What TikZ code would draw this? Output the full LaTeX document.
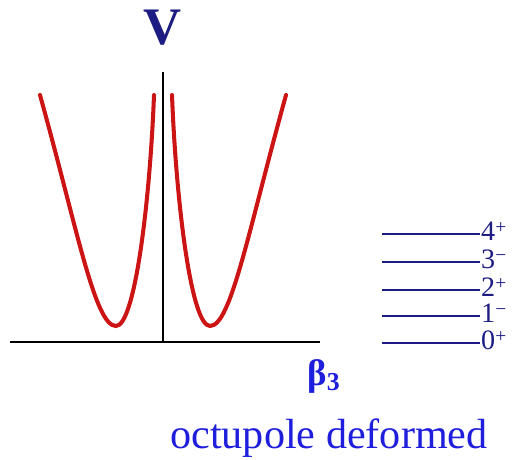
\documentclass[tikz,border=0pt]{standalone}
\usepackage{fontspec}
\setmainfont{Liberation Serif}
\usetikzlibrary{positioning}

\definecolor{navy}{RGB}{28,28,130}
\definecolor{potred}{RGB}{204,20,20}
\definecolor{lblue}{RGB}{30,30,220}

\newcommand{\parity}[1]{\raisebox{0.55ex}{\fontsize{11}{11}\selectfont #1}}

\begin{document}
\begin{tikzpicture}[
    x=0.02cm, y=-0.02cm,
    axis/.style={line width=1.7pt, draw=black},
    well/.style={line width=2.3pt, draw=potred, line cap=round},
    level/.style={line width=1.4pt, draw=navy},
    lvlabel/.style={
        text=navy, inner sep=0.5pt, anchor=west,
        text height=1.55ex, text depth=0pt,
        font=\fontsize{16}{18}\selectfont
    },
    title/.style={text=navy, font=\bfseries\fontsize{30}{32}\selectfont},
    caption/.style={text=lblue, font=\fontsize{24}{26}\selectfont}
]

\useasboundingbox (0,0) rectangle (516,459);

\def\xAxis{163}
\def\yAxis{342}

% axes
\coordinate (o) at (\xAxis,\yAxis);
\coordinate (xl) at (10,\yAxis);
\coordinate (xr) at (320,\yAxis);
\coordinate (vt) at (\xAxis,72);
\draw[axis] (xl) -- (xr);
\draw[axis] (o) -- (vt);

\node[title] (V) at (\xAxis,28) {V};
\node[text=lblue, font=\bfseries\fontsize{21}{24}\selectfont] (beta) at (324,376) {β\textsubscript{3}};

% double well
\draw[well] (40,95) .. controls (78,232) and (95,326) .. (116,326)
    .. controls (135,326) and (150,200) .. (154,95);
\draw[well] (286,95) .. controls (248,232) and (231,326) .. (210,326)
    .. controls (191,326) and (176,200) .. (172,95);

% levels
\node[lvlabel] (l4) at (480,234) {4\parity{+}};
\node[lvlabel] (l3) at (480,262) {3\parity{−}};
\node[lvlabel] (l2) at (480,290) {2\parity{+}};
\node[lvlabel] (l1) at (480,316) {1\parity{−}};
\node[lvlabel] (l0) at (480,343) {0\parity{+}};
\foreach \n/\y in {4/234,3/262,2/290,1/316,0/343}{
    \coordinate (s\n) at (382,\y);
    \draw[level] (s\n) -- (l\n.west);
}

\node[caption] (cap) at (329,438) {octupole deformed};

\end{tikzpicture}
\end{document}
